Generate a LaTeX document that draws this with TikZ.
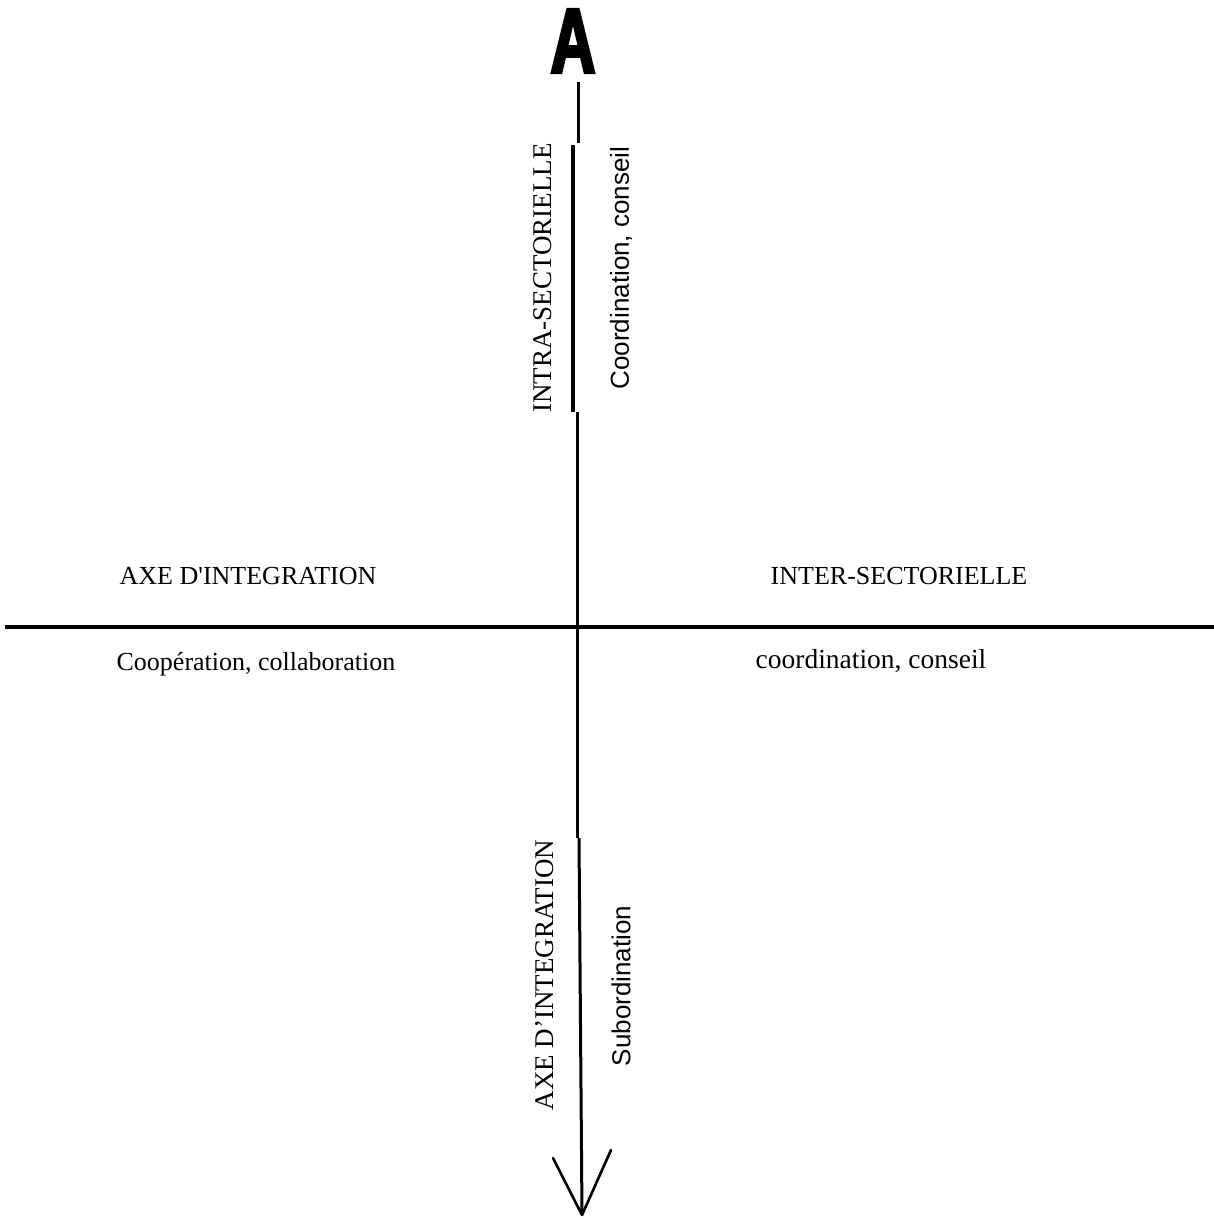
\documentclass[tikz,border=0pt]{standalone}
\usepackage{fontspec}
\setmainfont{Liberation Serif}
\newfontfamily\sansf{Liberation Sans}
\newfontfamily\bigAfont[FakeStretch=0.68,FakeBold=3]{Liberation Sans}
\begin{document}
\begin{tikzpicture}[x=1pt,y=-1pt,
  lbl/.style={inner sep=0pt,font=\fontsize{26}{28}\selectfont},
  vlbl/.style={inner sep=0pt,rotate=90,font=\fontsize{27}{29}\selectfont},
  slbl/.style={inner sep=0pt,rotate=90,font=\sansf\fontsize{26}{28}\selectfont},
  axis/.style={line width=3pt,black},
  tipline/.style={line width=2.6pt,line cap=round,line join=round}]
\useasboundingbox[fill=white] (0,0) rectangle (1214,1220);
% top letter
\node[inner sep=0pt,font=\bigAfont\bfseries\fontsize{92}{92}\selectfont] (A) at (573,41) {A};
% vertical axis pieces
\coordinate (s1a) at (578,82);
\coordinate (s1b) at (578,143);
\coordinate (s2a) at (573,145);
\coordinate (s2b) at (573,412);
\coordinate (s3a) at (577,412);
\coordinate (s3b) at (577,838);
\coordinate (s4a) at (579,838);
\coordinate (tip) at (582,1215);
\coordinate (armL) at (553,1158);
\coordinate (armR) at (611,1150);
\coordinate (hl) at (5,627);
\coordinate (hr) at (1214,627);
\draw[axis] (s1a) -- (s1b);
\draw[axis,line width=3.4pt] (s2a) -- (s2b);
\draw[axis] (s3a) -- (s3b);
\draw[axis] (s4a) -- (tip);
\draw[tipline] (armL) -- (tip) -- (armR);
\draw[line width=4pt] (hl) -- (hr);
% labels
\node[vlbl] (intra) at (543,278) {INTRA-SECTORIELLE};
\node[slbl] (coordv) at (621,268) {Coordination, conseil};
\node[vlbl] (axev) at (545,975) {AXE D'INTEGRATION};
\node[slbl] (subord) at (621,986) {Subordination};
\node[lbl] (axeh) at (248,576) {AXE D\textquotesingle INTEGRATION};
\node[lbl] (inter) at (899,576) {INTER-SECTORIELLE};
\node[lbl] (coop) at (256,664) {Coopération, collaboration};
\node[lbl,font=\fontsize{27.5}{29}\selectfont] (coordh) at (871,661) {coordination, conseil};
\end{tikzpicture}
\end{document}
